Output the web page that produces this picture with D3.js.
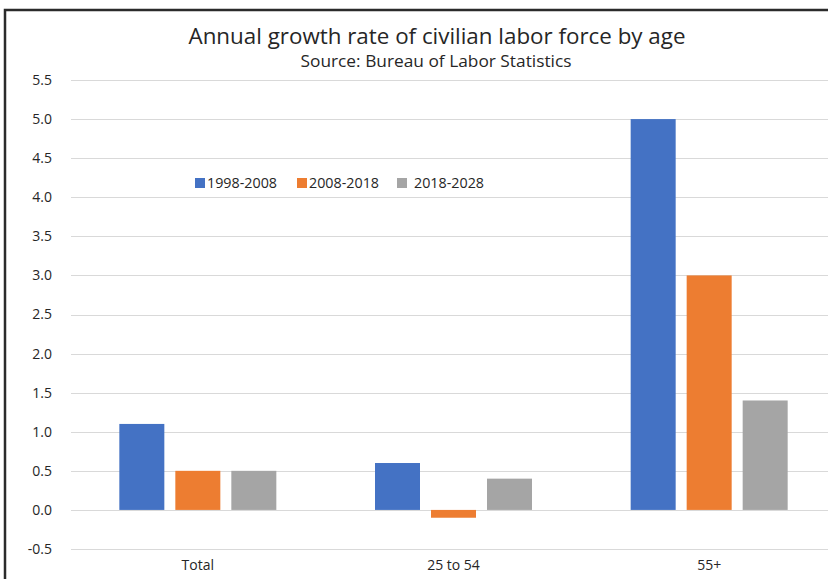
<!DOCTYPE html>
<html><head><meta charset="utf-8">
<script src="https://cdn.jsdelivr.net/npm/d3@7"></script>
<style>
html,body{margin:0;padding:0;background:#fff;overflow:hidden}
svg{display:block}
text{font-family:"Open Sans",Lato,sans-serif;fill:#262626}
</style></head>
<body><svg id="c" width="828" height="579"></svg>
<script>
const categories = ["Total", "25 to 54", "55+"];
const seriesNames = ["1998-2008", "2008-2018", "2018-2028"];
const series1 = [1.1, 0.6, 5.0];
const series2 = [0.5, -0.1, 3.0];
const series3 = [0.5, 0.4, 1.4];
const yTicks = [-0.5, 0.0, 0.5, 1.0, 1.5, 2.0, 2.5, 3.0, 3.5, 4.0, 4.5, 5.0, 5.5];
const colors = ["#4472C4", "#ED7D31", "#A5A5A5"];
const titleText = "Annual growth rate of civilian labor force by age";
const subtitleText = "Source: Bureau of Labor Statistics";

const seriesValues = [series1, series2, series3];
const svg = d3.select("#c");

// outer border (chart frame, cropped on right/bottom)
svg.append("path").attr("d", "M5,579 V10 H828")
  .attr("fill", "none").attr("stroke", "#2b2b2b").attr("stroke-width", 2.5);

const x0 = d3.scaleBand().domain(categories).range([70, 837]).paddingInner(0).paddingOuter(0);
const innerW = 168;
const x1 = d3.scaleBand().domain(seriesNames).range([0, innerW]).paddingInner(11/56).paddingOuter(5.5/56);
const y = d3.scaleLinear().domain([-0.5, 5.5]).range([549, 80]);

// gridlines
svg.append("g").selectAll("line").data(yTicks).join("line")
  .attr("x1", 71).attr("x2", 828)
  .attr("y1", d => Math.round(y(d)) + 0.5).attr("y2", d => Math.round(y(d)) + 0.5)
  .attr("stroke", "#d9d9d9").attr("stroke-width", 1);

// y axis labels
const fmt = d3.format(".1f");
const yAxis = d3.axisLeft(y).tickValues(yTicks).tickFormat(d => fmt(d).replace("\u2212", "-")).tickSize(0).tickPadding(0);
const ya = svg.append("g").attr("transform", "translate(52,0)").call(yAxis);
ya.select(".domain").remove();
ya.selectAll("text").attr("font-size", 14).attr("fill", "#262626")
  .style("font-family", '"Open Sans",Lato,sans-serif');

// bars
const groups = svg.append("g").selectAll("g").data(categories).join("g")
  .attr("transform", d => `translate(${x0(d) + (x0.bandwidth() - innerW) / 2},0)`);
groups.selectAll("rect").data((d, i) => seriesNames.map((s, j) => ({s, v: seriesValues[j][i], j})))
  .join("rect")
  .attr("x", d => x1(d.s)).attr("width", x1.bandwidth())
  .attr("y", d => y(Math.max(0, d.v))).attr("height", d => Math.abs(y(d.v) - y(0)))
  .attr("fill", d => colors[d.j]);

// x axis labels
const xAxis = d3.axisBottom(x0).tickSize(0).tickPadding(0);
const xa = svg.append("g").attr("transform", "translate(0,560)").call(xAxis);
xa.select(".domain").remove();
xa.selectAll("text").attr("font-size", 14).attr("fill", "#262626")
  .style("font-family", '"Open Sans",Lato,sans-serif');

// title
svg.append("text").attr("x", 437).attr("y", 44).attr("text-anchor", "middle")
  .attr("font-size", 22).attr("textLength", 497).attr("lengthAdjust", "spacingAndGlyphs").text(titleText);
svg.append("text").attr("x", 436).attr("y", 67).attr("text-anchor", "middle")
  .attr("font-size", 16).attr("textLength", 271).attr("lengthAdjust", "spacingAndGlyphs").text(subtitleText);

// legend
const legendX = [195, 297, 397];
const lg = svg.append("g").selectAll("g").data(seriesNames).join("g")
  .attr("transform", (d, i) => `translate(${legendX[i]},178)`);
lg.append("rect").attr("width", 10).attr("height", 10).attr("fill", (d, i) => colors[i]);
lg.append("text").attr("x", (d, i) => i === 2 ? 17 : 12).attr("y", 10).attr("font-size", 14)
  .attr("textLength", 70).attr("lengthAdjust", "spacingAndGlyphs").text(d => d);
</script></body></html>
